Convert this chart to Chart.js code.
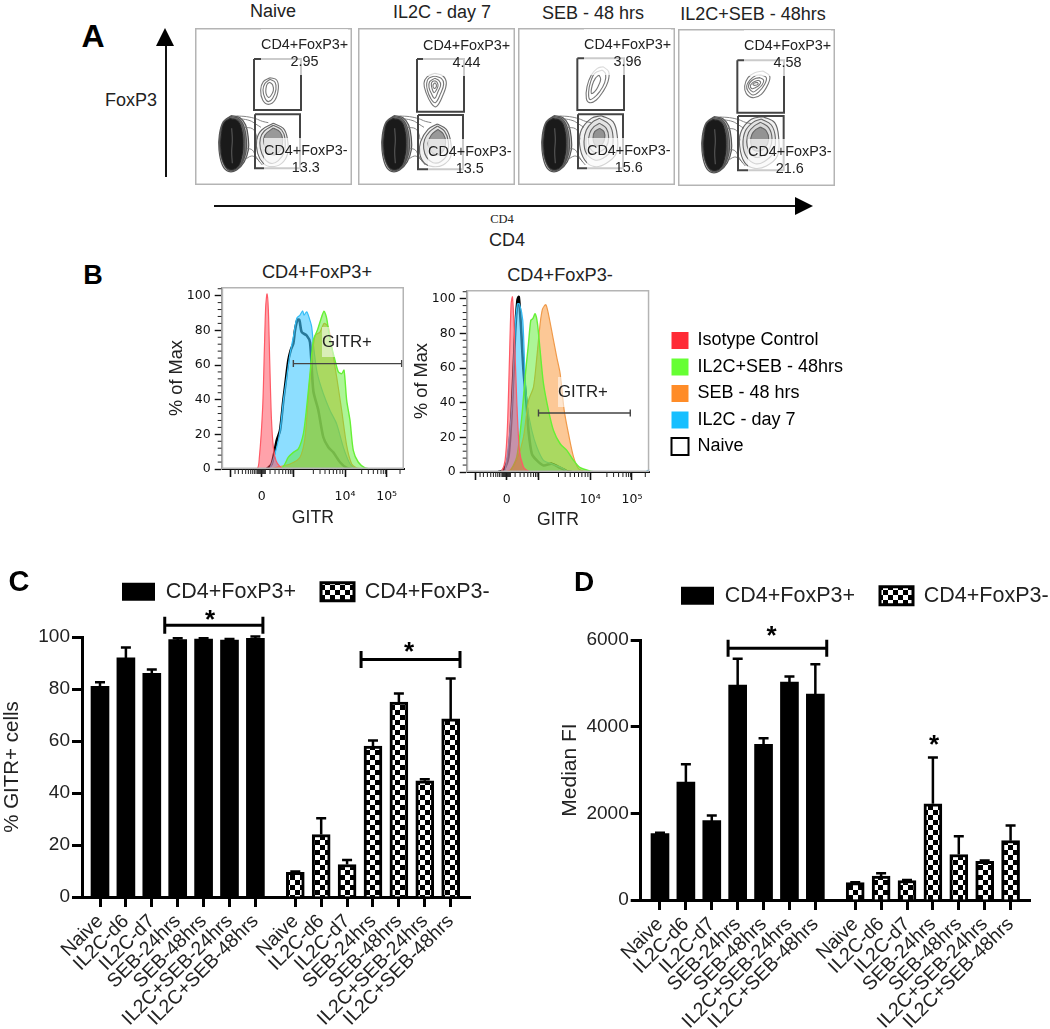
<!DOCTYPE HTML>
<html>
<head>
  <title>GITR expression</title>
  <script src="https://cdn.jsdelivr.net/npm/chart.js"></script>
  <style>
    body { margin:0; background:#fff; font-family:"Liberation Sans",Arial,sans-serif; color:#222; overflow:hidden; }
    canvas { position:absolute; }
    .t { position:absolute; white-space:nowrap; transform:translate(-50%,-50%); font-size:18px; }
    .letter { position:absolute; font-weight:bold; color:#000; line-height:1; transform:translate(-50%,-50%); }
    .gate { position:absolute; font-size:14.4px; line-height:17px; text-align:center; white-space:nowrap; background:rgba(255,255,255,.72); }
    .up { padding:7px 0 5px; }
    .low { padding:4px 0 1px; }
    .gitr { position:absolute; font-size:16.8px; line-height:30px; background:rgba(255,255,255,.55); }
    .line { position:absolute; background:#111; }
    .head { position:absolute; width:0; height:0; }
  </style>
</head>
<body>
  <canvas id="a1" width="157" height="157" style="left:195px;top:28px"></canvas>
  <canvas id="a2" width="157" height="157" style="left:358px;top:28px"></canvas>
  <canvas id="a3" width="157" height="157" style="left:518px;top:28px"></canvas>
  <canvas id="a4" width="157" height="157" style="left:678px;top:29px"></canvas>
  <canvas id="b1" width="240" height="249" style="left:166px;top:284px"></canvas>
  <canvas id="b2" width="449" height="247" style="left:411px;top:288px"></canvas>
  <canvas id="c" width="500" height="469" style="left:0;top:560px"></canvas>
  <canvas id="d" width="492" height="469" style="left:558px;top:560px"></canvas>

  <div class="letter" style="left:93px;top:36px;font-size:32px">A</div>
  <div class="letter" style="left:93px;top:275px;font-size:27px">B</div>
  <div class="letter" style="left:19px;top:581px;font-size:29px">C</div>
  <div class="letter" style="left:584px;top:582px;font-size:28px">D</div>

  <div class="t" style="left:273px;top:11px">Naive</div>
  <div class="t" style="left:442px;top:12px">IL2C - day 7</div>
  <div class="t" style="left:593px;top:13px">SEB - 48 hrs</div>
  <div class="t" style="left:753px;top:14px">IL2C+SEB - 48hrs</div>
  <div class="t" style="left:131px;top:100px">FoxP3</div>
  <div class="t" style="left:502px;top:219px;font:12.5px 'Liberation Serif',serif">CD4</div>
  <div class="t" style="left:507px;top:240px">CD4</div>
  <div class="t" style="left:317px;top:272px;font-size:18.2px">CD4+FoxP3+</div>
  <div class="t" style="left:560px;top:275px;font-size:18.2px">CD4+FoxP3-</div>

  <div class="line" style="left:164.5px;top:44px;width:2px;height:133px"></div>
  <div class="head" style="left:156px;top:28px;border-left:9.5px solid transparent;border-right:9.5px solid transparent;border-bottom:18px solid #000"></div>
  <div class="line" style="left:214px;top:204.5px;width:584px;height:2px"></div>
  <div class="head" style="left:795px;top:196.5px;border-top:9px solid transparent;border-bottom:9px solid transparent;border-left:18px solid #000"></div>

  <div class="gate up" style="left:261px;top:29px">CD4+FoxP3+<br>2.95</div>
  <div class="gate low" style="left:264px;top:138px">CD4+FoxP3-<br>13.3</div>
  <div class="gate up" style="left:423px;top:30px">CD4+FoxP3+<br>4.44</div>
  <div class="gate low" style="left:428px;top:139px">CD4+FoxP3-<br>13.5</div>
  <div class="gate up" style="left:584px;top:29px">CD4+FoxP3+<br>3.96</div>
  <div class="gate low" style="left:587px;top:138px">CD4+FoxP3-<br>15.6</div>
  <div class="gate up" style="left:744px;top:30px">CD4+FoxP3+<br>4.58</div>
  <div class="gate low" style="left:748px;top:139px">CD4+FoxP3-<br>21.6</div>

  <div class="gitr" style="left:322px;top:327px">GITR+</div>
  <div class="gitr" style="left:558px;top:377px">GITR+</div>

  <script type="text/javascript">
    // ---- panel C / D bars
    var categories = ["Naive","IL2C-d6","IL2C-d7","SEB-24hrs","SEB-48hrs","IL2C+SEB-24hrs","IL2C+SEB-48hrs"];
    var seriesNames = ["CD4+FoxP3+","CD4+FoxP3-"];
    var gitrPos    = [81, 92, 86, 99, 99.2, 98.8, 99.5];
    var gitrPosTop = [82.6, 96, 87.5, 99.5, 99.5, 99.2, 100.2];
    var gitrNeg    = [9.5, 24, 12.5, 58, 75, 44.7, 68.5];
    var gitrNegTop = [9.8, 30.3, 14.2, 60.2, 78.3, 45.3, 84];
    var mfiPos     = [1530, 2720, 1830, 4960, 3590, 5030, 4750];
    var mfiPosTop  = [1550, 3130, 1950, 5570, 3730, 5160, 5440];
    var mfiNeg     = [400, 550, 450, 2220, 1050, 890, 1370];
    var mfiNegTop  = [410, 620, 460, 3290, 1470, 910, 1720];
    var groupStart = 7.54;

    var bracketsC = [[2.5, 6.29, 104.5], [10.08, 13.9, 91.3]];
    var starsC    = [[4.25, 107.6], [11.93, 95.3]];
    var bracketsD = [[2.63, 6.44, 5808]];
    var starsD    = [[4.31, 6162], [10.58, 3653]];

    // ---- panel B histograms, [channel, % of max]
    var histNames = ["Isotype Control","IL2C+SEB - 48hrs","SEB - 48 hrs","IL2C - day 7","Naive"];
    var b1Red = [[0,0],[105,0],[113,6.8],[123,35.7],[128,68.5],[132,93.6],[136,101],[140,91.7],[144,62.7],[149,30],[155,12.5],[163,4.8],[175,1.4],[190,0],[547,0]];
    var b1Green = [[170,0],[185,1.4],[200,6.8],[215,9.6],[230,11.6],[245,20.3],[255,35.7],[265,55],[275,74.3],[287,80],[297,86],[307,91],[315,86.9],[325,74.3],[340,62.7],[350,56],[360,55],[367,57],[375,39.6],[385,28],[395,10.6],[410,3.9],[430,0.6],[445,0]];
    var b1Orange = [[150,0],[165,1],[205,2.9],[235,6.8],[250,18.3],[265,53],[280,77],[295,79],[307,84],[320,82],[330,70.5],[345,53],[360,33.8],[375,13.5],[390,2.9],[405,0.6],[420,0]];
    var b1Blue = [[135,0],[145,0.6],[165,12.5],[175,22.2],[185,39.6],[195,53],[205,66.6],[215,76.3],[225,86.9],[235,88.8],[243,91.3],[247,88.8],[255,90.7],[263,86.9],[270,82],[277,68.5],[287,55],[305,43.4],[325,33.8],[345,26],[365,12.5],[385,2.9],[400,0.6],[415,0]];
    var b1Naive = [[135,0],[150,2.9],[165,16.4],[175,22.2],[185,39.6],[190,47.3],[200,62.7],[207,68.5],[215,72.4],[220,80],[227,86],[233,86],[240,79],[255,77],[265,73],[275,45],[290,33.8],[305,18.3],[320,12.5],[335,9.6],[355,3.9],[375,0.6],[390,0]];
    var b1Gate = [215, 540, 60.8];

    var b2Red = [[0,0],[95,0],[105,0.5],[115,6.7],[122,26],[128,64.4],[133,97],[137,101],[142,83.6],[150,41],[158,12.5],[170,2.9],[180,1],[195,0],[548,0]];
    var b2Green = [[115,0],[130,0.5],[150,8.7],[165,31.7],[175,54.8],[185,74],[192,87.5],[198,88.5],[205,91.3],[212,85.6],[220,70],[230,51],[245,35.6],[260,24],[280,16.3],[300,12.5],[320,6.7],[340,2.5],[370,0.5],[385,0]];
    var b2Orange = [[115,0],[130,1],[150,6.7],[170,20],[185,41],[200,49],[210,66],[220,85.6],[227,94],[237,96.5],[245,91],[258,78],[270,66],[280,56.7],[292,35.6],[305,22],[320,8.7],[335,1.9],[350,0.5],[365,0]];
    var b2Blue = [[100,0],[115,1],[135,37.5],[145,83.6],[152,97],[158,97],[168,87.5],[175,54.8],[182,37.5],[195,24],[210,14.4],[230,6.7],[260,4.4],[290,1.9],[305,0],[535,0],[545,1.2],[548,1.2]];
    var b2Naive = [[95,0],[110,1],[125,8.7],[135,35.6],[145,80],[152,99],[156,101],[162,85.8],[170,58.7],[180,37.5],[185,24],[195,10.6],[210,6.7],[230,3.8],[255,4.8],[275,2.9],[300,0.5],[315,0]];
    var b2Gate = [215, 490, 34];

    var histTicks = [25, 120, 215, 370, 495];
    var histTickLabels = ["", "0", "", "10\u2074", "10\u2075"];
    var histMinorX = [40,50,62,72,80,87,93,98,103,107,110,113,116,119,122,125,128,131,145,160,172,183,192,200,206,211,275,295,310,323,335,345,355,363,420,440,455,468,478,485,491,535];
    var histMinorY = [4,8,12,16,24,28,32,36,44,48,52,56,64,68,72,76,84,88,92,96,104];
    var histColors = ["#ff2a36","#66ff33","#ff8c28","#18bfff","#ffffff"];

    // ---- panel A contours, [channel x, channel y]
    var leftDark = [[45,206],[68,213],[80,240],[84,280],[80,320],[66,352],[42,357],[26,337],[18,295],[20,250],[28,218]];
    var leftRings = [
      [[48,197],[75,203],[92,225],[100,265],[100,300],[88,335],[65,360],[40,364],[22,345],[12,300],[13,255],[25,215]],
      [[47,200],[72,206],[87,230],[94,268],[93,305],[80,340],[55,361],[32,352],[15,300],[15,255],[27,216]],
      [[47,204],[70,210],[84,235],[89,275],[87,315],[73,348],[48,360],[28,344],[16,298],[18,252],[28,218]]
    ];
    var leftStreak = [[50,235],[52,270],[50,305],[52,340]];
    var bridges = [
      [[65,198],[95,200],[122,206],[142,214],[160,218]],
      [[78,206],[105,212],[122,222],[138,232]],
      [[90,232],[112,236],[122,250],[126,268]],
      [[97,295],[112,300],[122,318],[134,336]],
      [[88,330],[110,318],[124,325],[142,345]]
    ];
    var rightA1 = [
      [[175,220],[205,235],[217,265],[218,310],[200,340],[170,350],[145,340],[128,310],[125,270],[140,240]],
      [[175,226],[200,240],[210,266],[208,305],[190,332],[168,340],[148,325],[136,295],[136,265],[148,243]],
      [[175,234],[195,246],[203,268],[198,298],[178,315],[158,305],[147,280],[150,255]]
    ];
    var rightA2 = [
      [[178,222],[205,238],[218,275],[218,320],[195,345],[165,350],[140,340],[125,310],[128,275],[150,238]],
      [[178,228],[200,244],[211,275],[208,312],[188,335],[165,338],[146,322],[137,295],[140,268],[155,245]],
      [[180,238],[196,252],[203,276],[196,302],[176,315],[158,302],[150,280],[160,255]]
    ];
    var rightA3 = [
      [[190,197],[225,215],[238,260],[235,310],[205,340],[170,350],[140,330],[125,285],[130,240],[160,205]],
      [[185,205],[215,225],[225,260],[220,300],[195,325],[170,330],[145,310],[138,275],[145,240],[165,215]],
      [[185,220],[205,235],[212,262],[205,290],[185,305],[165,305],[152,280],[155,250],[168,230]],
      [[185,235],[198,245],[200,265],[190,285],[172,285],[165,265],[170,245]]
    ];
    var rightA4 = [
      [[195,197],[230,215],[242,260],[238,315],[205,345],[170,352],[140,335],[125,285],[130,240],[160,205]],
      [[190,204],[220,222],[232,260],[226,305],[198,332],[172,338],[146,318],[135,282],[142,240],[165,214]],
      [[188,214],[212,230],[222,262],[214,295],[192,315],[170,318],[152,298],[146,272],[152,244],[170,224]],
      [[187,228],[205,240],[212,264],[202,290],[184,300],[166,296],[158,272],[162,250],[173,236]]
    ];
    var upperA1 = [
      [[165,83],[185,90],[190,115],[180,150],[160,163],[143,150],[137,120],[145,95]],
      [[165,88],[180,97],[183,118],[173,145],[160,155],[150,145],[144,120],[150,100]],
      [[165,97],[173,105],[175,122],[167,138],[160,142],[153,130],[153,115],[157,102]]
    ];
    var upperA2 = [
      [[170,70],[195,78],[205,100],[195,135],[175,170],[160,160],[145,130],[138,100],[148,80]],
      [[170,78],[190,85],[197,102],[188,130],[172,158],[158,145],[148,120],[146,100],[152,85]],
      [[170,85],[183,92],[188,105],[180,125],[170,145],[160,130],[153,112],[155,95]],
      [[170,92],[178,98],[180,108],[175,120],[168,128],[162,115],[160,102],[163,95]],
      [[170,98],[175,104],[174,112],[168,115],[165,106]]
    ];
    var upperA3 = [
      [[195,50],[212,65],[210,95],[195,125],[175,150],[155,158],[145,145],[147,110],[160,75],[178,55]],
      [[193,60],[203,72],[200,98],[185,125],[168,143],[155,148],[152,125],[158,95],[170,70]],
      [[183,75],[188,88],[180,110],[170,125],[160,130],[163,105],[172,85]]
    ];
    var upperA4 = [
      [[195,60],[215,75],[210,100],[190,130],[165,140],[145,128],[140,105],[150,80],[170,65]],
      [[190,72],[205,80],[200,100],[183,122],[165,132],[150,120],[146,105],[155,88],[172,74]],
      [[186,80],[197,88],[192,102],[178,115],[165,123],[153,112],[152,102],[160,90],[174,82]],
      [[182,88],[188,94],[183,103],[172,110],[162,113],[157,104],[164,95],[174,90]],
      [[180,95],[180,100],[170,103],[165,100],[172,95]]
    ];
    var gatesA1 = [[[117,27],[258,27],[258,180],[117,180]], [[120,193],[255,193],[255,355],[120,355]]];
    var gatesA2 = [[[117,27],[258,27],[258,185],[117,185]], [[120,195],[255,195],[255,358],[120,358]]];
    var gatesA3 = [[[118,25],[258,25],[258,180],[118,180]], [[120,193],[255,193],[255,355],[120,355]]];
    var gatesA4 = [[[118,28],[258,28],[258,185],[118,185]], [[120,195],[257,195],[257,358],[120,358]]];

    Chart.defaults.font.family = "'Liberation Sans', Arial, sans-serif";
    Chart.defaults.color = "#222";
    Chart.defaults.animation = false;

    function closePath(p) { return p.concat([p[0]]); }

    function pathSet(p, color, width, tension, fillColor) {
      return { type:"scatter", showLine:true, data:p, borderColor:color, borderWidth:width, pointRadius:0, tension:tension,
               fill: fillColor ? "shape" : false, backgroundColor: fillColor || "transparent" };
    }

    var framePlugin = {
      id: "frame",
      afterDraw: function (chart) {
        var a = chart.chartArea, ctx = chart.ctx;
        ctx.save();
        ctx.strokeStyle = "#b4b4b4";
        ctx.lineWidth = 1.5;
        ctx.strokeRect(a.left + 0.75, a.top + 0.75, a.width - 1.5, a.height - 1.5);
        ctx.restore();
      }
    };

    function contourChart(id, upper, right, gates) {
      var list = [];
      leftRings.forEach(function (r, i) { list.push(pathSet(closePath(r), "#555", 1.2, 0.4, i == 0 ? "rgba(130,130,130,.45)" : "rgba(60,60,60,.45)")); });
      list.push(pathSet(closePath(leftDark), "#222", 1, 0.4, "#1a1a1a"));
      list.push(pathSet(leftStreak, "rgba(255,255,255,.25)", 1.2, 0.4));
      bridges.forEach(function (b) { list.push(pathSet(b, "#777", 0.9, 0.4)); });
      right.forEach(function (r, i) { list.push(pathSet(closePath(r), "#666", 1.1, 0.4, i == right.length - 1 ? "rgba(50,50,50,.42)" : "rgba(120,120,120,.1)")); });
      upper.forEach(function (r) { list.push(pathSet(closePath(r), "#777", 1.1, 0.4)); });
      gates.forEach(function (g) { list.push(pathSet(closePath(g), "#444", 2, 0)); });
      list.reverse();   // first dataset is painted last
      return new Chart(document.getElementById(id), {
        type: "scatter",
        data: { datasets: list },
        options: {
          responsive:false,
          layout: { padding:0 },
          plugins: { legend:{display:false}, tooltip:{enabled:false} },
          scales: {
            x: { type:"linear", display:false, min:-60, max:411 },
            y: { type:"linear", display:false, min:-66, max:405, reverse:true }
          }
        },
        plugins: [framePlugin]
      });
    }

    contourChart("a1", upperA1, rightA1, gatesA1);
    contourChart("a2", upperA2, rightA2, gatesA2);
    contourChart("a3", upperA3, rightA3, gatesA3);
    contourChart("a4", upperA4, rightA4, gatesA4);

    // puts the legend where it belongs, the layout only reserves the height
    function legendPin(x, y, w, h) {
      return {
        id: "legendPin",
        afterLayout: function (chart) {
          var l = chart.legend;
          l.left = x; l.top = y; l.right = x + w; l.bottom = y + h;
          l.width = w; l.height = h;
        }
      };
    }

    // keeps the plot box where the axis sizes say, whatever the label overhang
    function noOverhang(s) {
      s.paddingTop = 0; s.paddingBottom = 0; s.paddingLeft = 0; s.paddingRight = 0;
    }

    function histMarks(gate) {
      return {
        id: "histMarks",
        afterDatasetsDraw: function (chart) {
          var ctx = chart.ctx, sx = chart.scales.x, sy = chart.scales.y, a = chart.chartArea;
          ctx.save();
          ctx.strokeStyle = "#222";
          ctx.lineWidth = 1;
          ctx.beginPath();
          histMinorX.forEach(function (v) { var p = sx.getPixelForValue(v); ctx.moveTo(p, a.bottom); ctx.lineTo(p, a.bottom + 5); });
          histMinorY.forEach(function (v) { var p = sy.getPixelForValue(v); ctx.moveTo(a.left, p); ctx.lineTo(a.left - 4, p); });
          ctx.stroke();
          var x0 = sx.getPixelForValue(gate[0]), x1 = sx.getPixelForValue(gate[1]), y = sy.getPixelForValue(gate[2]);
          ctx.strokeStyle = "#444";
          ctx.lineWidth = 1.4;
          ctx.beginPath();
          ctx.moveTo(x0, y); ctx.lineTo(x1, y);
          ctx.moveTo(x0, y - 3.5); ctx.lineTo(x0, y + 3.5);
          ctx.moveTo(x1, y - 3.5); ctx.lineTo(x1, y + 3.5);
          ctx.stroke();
          ctx.restore();
        }
      };
    }

    function histSet(name, points, line, fill, width) {
      return { label:name, data:points, borderColor:line, borderWidth:width, backgroundColor:fill, fill: fill ? "origin" : false, pointRadius:0, tension:0.25 };
    }

    function histChart(id, curves, gate, opt) {
      var plugins = [framePlugin, histMarks(gate)];
      if (opt.legend) plugins.push(legendPin(252, 35, 200, 150));
      return new Chart(document.getElementById(id), {
        type: "line",
        data: { datasets: [
          histSet(histNames[0], curves[0], "#ff5a66", "rgba(255,70,85,.5)", 1.2),
          histSet(histNames[1], curves[1], "#66f035", "rgba(90,235,45,.5)", 1.4),
          histSet(histNames[2], curves[2], "#f09a4a", "rgba(250,145,45,.5)", 1.2),
          histSet(histNames[3], curves[3], "#35bdf5", "rgba(65,200,255,.6)", 1.2),
          histSet(histNames[4], curves[4], "#000", null, 2.6)
        ] },
        options: {
          responsive:false,
          layout: { padding:{ top:opt.top } },
          plugins: {
            tooltip:{enabled:false},
            legend: {
              display: !!opt.legend,
              position: "chartArea",
              align: "start",
              labels: {
                boxWidth:17, boxHeight:17, padding:8.5, color:"#222",
                font:{ size:18 },
                generateLabels: function (chart) {
                  return chart.data.datasets.map(function (d, i) {
                    return { text:d.label, fillStyle:histColors[i], strokeStyle: i == 4 ? "#000" : histColors[i], lineWidth: i == 4 ? 2 : 0, datasetIndex:i };
                  });
                }
              }
            }
          },
          scales: {
            x: {
              type:"linear", min:0, max:547,
              afterFit: function (s) { s.height = opt.xHeight; noOverhang(s); },
              afterBuildTicks: function (s) { s.ticks = histTicks.map(function (v) { return { value:v }; }); },
              border:{ color:"#111", width:2 },
              grid:{ drawOnChartArea:false, tickLength:8, tickColor:"#111", tickWidth:1.6 },
              ticks:{ autoSkip:false, maxRotation:0, minRotation:0, padding:12, color:"#111", font:{ family:"'DejaVu Sans'", size:12.5 },
                      callback:function (v, i) { return histTickLabels[i]; } },
              title:{ display:true, text:"GITR", color:"#222", font:{ size:17.6 }, padding:{ top:0, bottom:4 } }
            },
            y: {
              min:0, max:105,
              afterFit: function (s) { s.width = 55.7; noOverhang(s); },
              border:{ color:"#999", width:1 },
              grid:{ drawOnChartArea:false, tickLength:7, tickColor:"#111", tickWidth:1.4 },
              ticks:{ stepSize:20, includeBounds:false, padding:4, color:"#111", font:{ family:"'DejaVu Sans'", size:12.5 } },
              title:{ display:true, text:"% of Max", color:"#222", font:{ size:18.2 }, padding:0 }
            },
            yr: {
              type:"linear", position:"right", display:true,
              afterFit: function (s) { s.width = opt.rightInset; noOverhang(s); },
              border:{ display:false }, grid:{ display:false }, ticks:{ display:false }
            }
          }
        },
        plugins: plugins
      });
    }

    histChart("b1", [b1Red, b1Green, b1Orange, b1Blue, b1Naive], b1Gate, { top:3, xHeight:64, rightInset:2 });
    histChart("b2", [b2Red, b2Green, b2Orange, b2Blue, b2Naive], b2Gate, { top:2, xHeight:63, rightInset:210.7, legend:true });

    // ---- bars
    function checkerPattern() {
      var c = document.createElement("canvas");
      c.width = 10; c.height = 10;
      var g = c.getContext("2d");
      g.fillStyle = "#000"; g.fillRect(0, 0, 10, 10);
      g.fillStyle = "#fff"; g.fillRect(0, 0, 5, 5); g.fillRect(5, 5, 5, 5);
      return g.createPattern(c, "repeat");
    }

    var tickPositions = [];
    categories.forEach(function (c, i) { tickPositions.push(i); });
    categories.forEach(function (c, i) { tickPositions.push(groupStart + i); });
    var tickLabels = categories.concat(categories);

    function barMarks(tops, brackets, stars) {
      return {
        id: "barMarks",
        afterDatasetsDraw: function (chart) {
          var ctx = chart.ctx, sx = chart.scales.x, sy = chart.scales.y;
          ctx.save();
          ctx.strokeStyle = "#000";
          ctx.lineWidth = 2.5;
          ctx.beginPath();
          tops.forEach(function (t, i) {
            var x = sx.getPixelForValue(tickPositions[i]), y = sy.getPixelForValue(t);
            ctx.moveTo(x, sy.getPixelForValue(i < 7 ? 0 : t) - (i < 7 ? 3 : 0)); ctx.lineTo(x, y);
            ctx.moveTo(x - 5, y); ctx.lineTo(x + 5, y);
          });
          ctx.stroke();
          // stems of the hatched bars stop at the bar top
          ctx.beginPath();
          tops.forEach(function (t, i) {
            if (i < 7) return;
            var x = sx.getPixelForValue(tickPositions[i]);
            var neg = chart.data.datasets[1].data[i - 7].y;
            ctx.moveTo(x, sy.getPixelForValue(neg)); ctx.lineTo(x, sy.getPixelForValue(t));
          });
          ctx.stroke();
          ctx.lineWidth = 3;
          ctx.beginPath();
          brackets.forEach(function (b) {
            var x0 = sx.getPixelForValue(b[0]), x1 = sx.getPixelForValue(b[1]), y = sy.getPixelForValue(b[2]);
            ctx.moveTo(x0, y); ctx.lineTo(x1, y);
            ctx.moveTo(x0, y - 8.5); ctx.lineTo(x0, y + 8.5);
            ctx.moveTo(x1, y - 8.5); ctx.lineTo(x1, y + 8.5);
          });
          ctx.stroke();
          ctx.fillStyle = "#000";
          ctx.font = "bold 26px 'Liberation Sans'";
          ctx.textAlign = "center";
          ctx.textBaseline = "middle";
          stars.forEach(function (s) { ctx.fillText("*", sx.getPixelForValue(s[0]), sy.getPixelForValue(s[1]) + 4); });
          ctx.restore();
        }
      };
    }

    function barChart(id, pos, neg, tops, o) {
      var hatch = checkerPattern();
      return new Chart(document.getElementById(id), {
        type: "bar",
        data: { datasets: [
          { label:seriesNames[0], data:pos.map(function (v, i) { return { x:i, y:v }; }), backgroundColor:"#000", borderWidth:0, barThickness:18, grouped:false },
          { label:seriesNames[1], data:neg.map(function (v, i) { return { x:groupStart + i, y:v }; }), backgroundColor:hatch, borderColor:"#000", borderWidth:3, barThickness:18, grouped:false }
        ] },
        options: {
          responsive:false,
          layout: { padding:{ top:o.top } },
          plugins: {
            tooltip:{enabled:false},
            legend: {
              position:"top", align:"start", maxHeight:40,
              labels:{ boxWidth:33, boxHeight:18, padding:25, color:"#222", font:{ size:21.5 } }
            }
          },
          scales: {
            x: {
              type:"linear", min:o.xMin, max:o.xMax, offset:false,
              afterFit: function (s) { s.height = o.xHeight; noOverhang(s); },
              afterBuildTicks: function (s) { s.ticks = tickPositions.map(function (v) { return { value:v }; }); },
              border:{ color:"#000", width:3 },
              grid:{ offset:false, drawOnChartArea:false, tickLength:10, tickColor:"#000", tickWidth:3 },
              ticks:{ autoSkip:false, minRotation:45, maxRotation:45, padding:3, color:"#222", font:{ size:19.5 },
                      callback:function (v, i) { return tickLabels[i]; } }
            },
            y: {
              min:0, max:o.yMax,
              afterFit: function (s) { s.width = o.yWidth; noOverhang(s); },
              border:{ color:"#000", width:3 },
              grid:{ drawOnChartArea:false, tickLength:10, tickColor:"#000", tickWidth:3 },
              ticks:{ stepSize:o.yStep, padding:2, color:"#222", font:{ size:19 }, callback:function (v) { return String(v); } },
              title:{ display:true, text:o.yTitle, color:"#222", font:{ size:o.yTitleSize }, padding:0 }
            },
            yr: {
              type:"linear", position:"right", display:true,
              afterFit: function (s) { s.width = o.rightInset; noOverhang(s); },
              border:{ display:false }, grid:{ display:false }, ticks:{ display:false }
            }
          }
        },
        plugins: [legendPin(o.legendX, o.legendY, 470, 60), barMarks(tops, o.brackets, o.stars)]
      });
    }

    barChart("c", gitrPos, gitrNeg, gitrPosTop.concat(gitrNegTop), {
      top:37, xMin:-0.695, xMax:14.286, xHeight:132, yMax:100, yStep:20, yWidth:82, yTitle:"% GITR+ cells", yTitleSize:20.5,
      rightInset:30, legendX:97, legendY:-4, brackets:bracketsC, stars:starsC
    });
    barChart("d", mfiPos, mfiNeg, mfiPosTop.concat(mfiNegTop), {
      top:40, xMin:-0.745, xMax:14.29, xHeight:129, yMax:6000, yStep:2000, yWidth:82.7, yTitle:"Median FI", yTitleSize:21,
      rightInset:20, legendX:98, legendY:0, brackets:bracketsD, stars:starsD
    });
  </script>
</body>
</html>
